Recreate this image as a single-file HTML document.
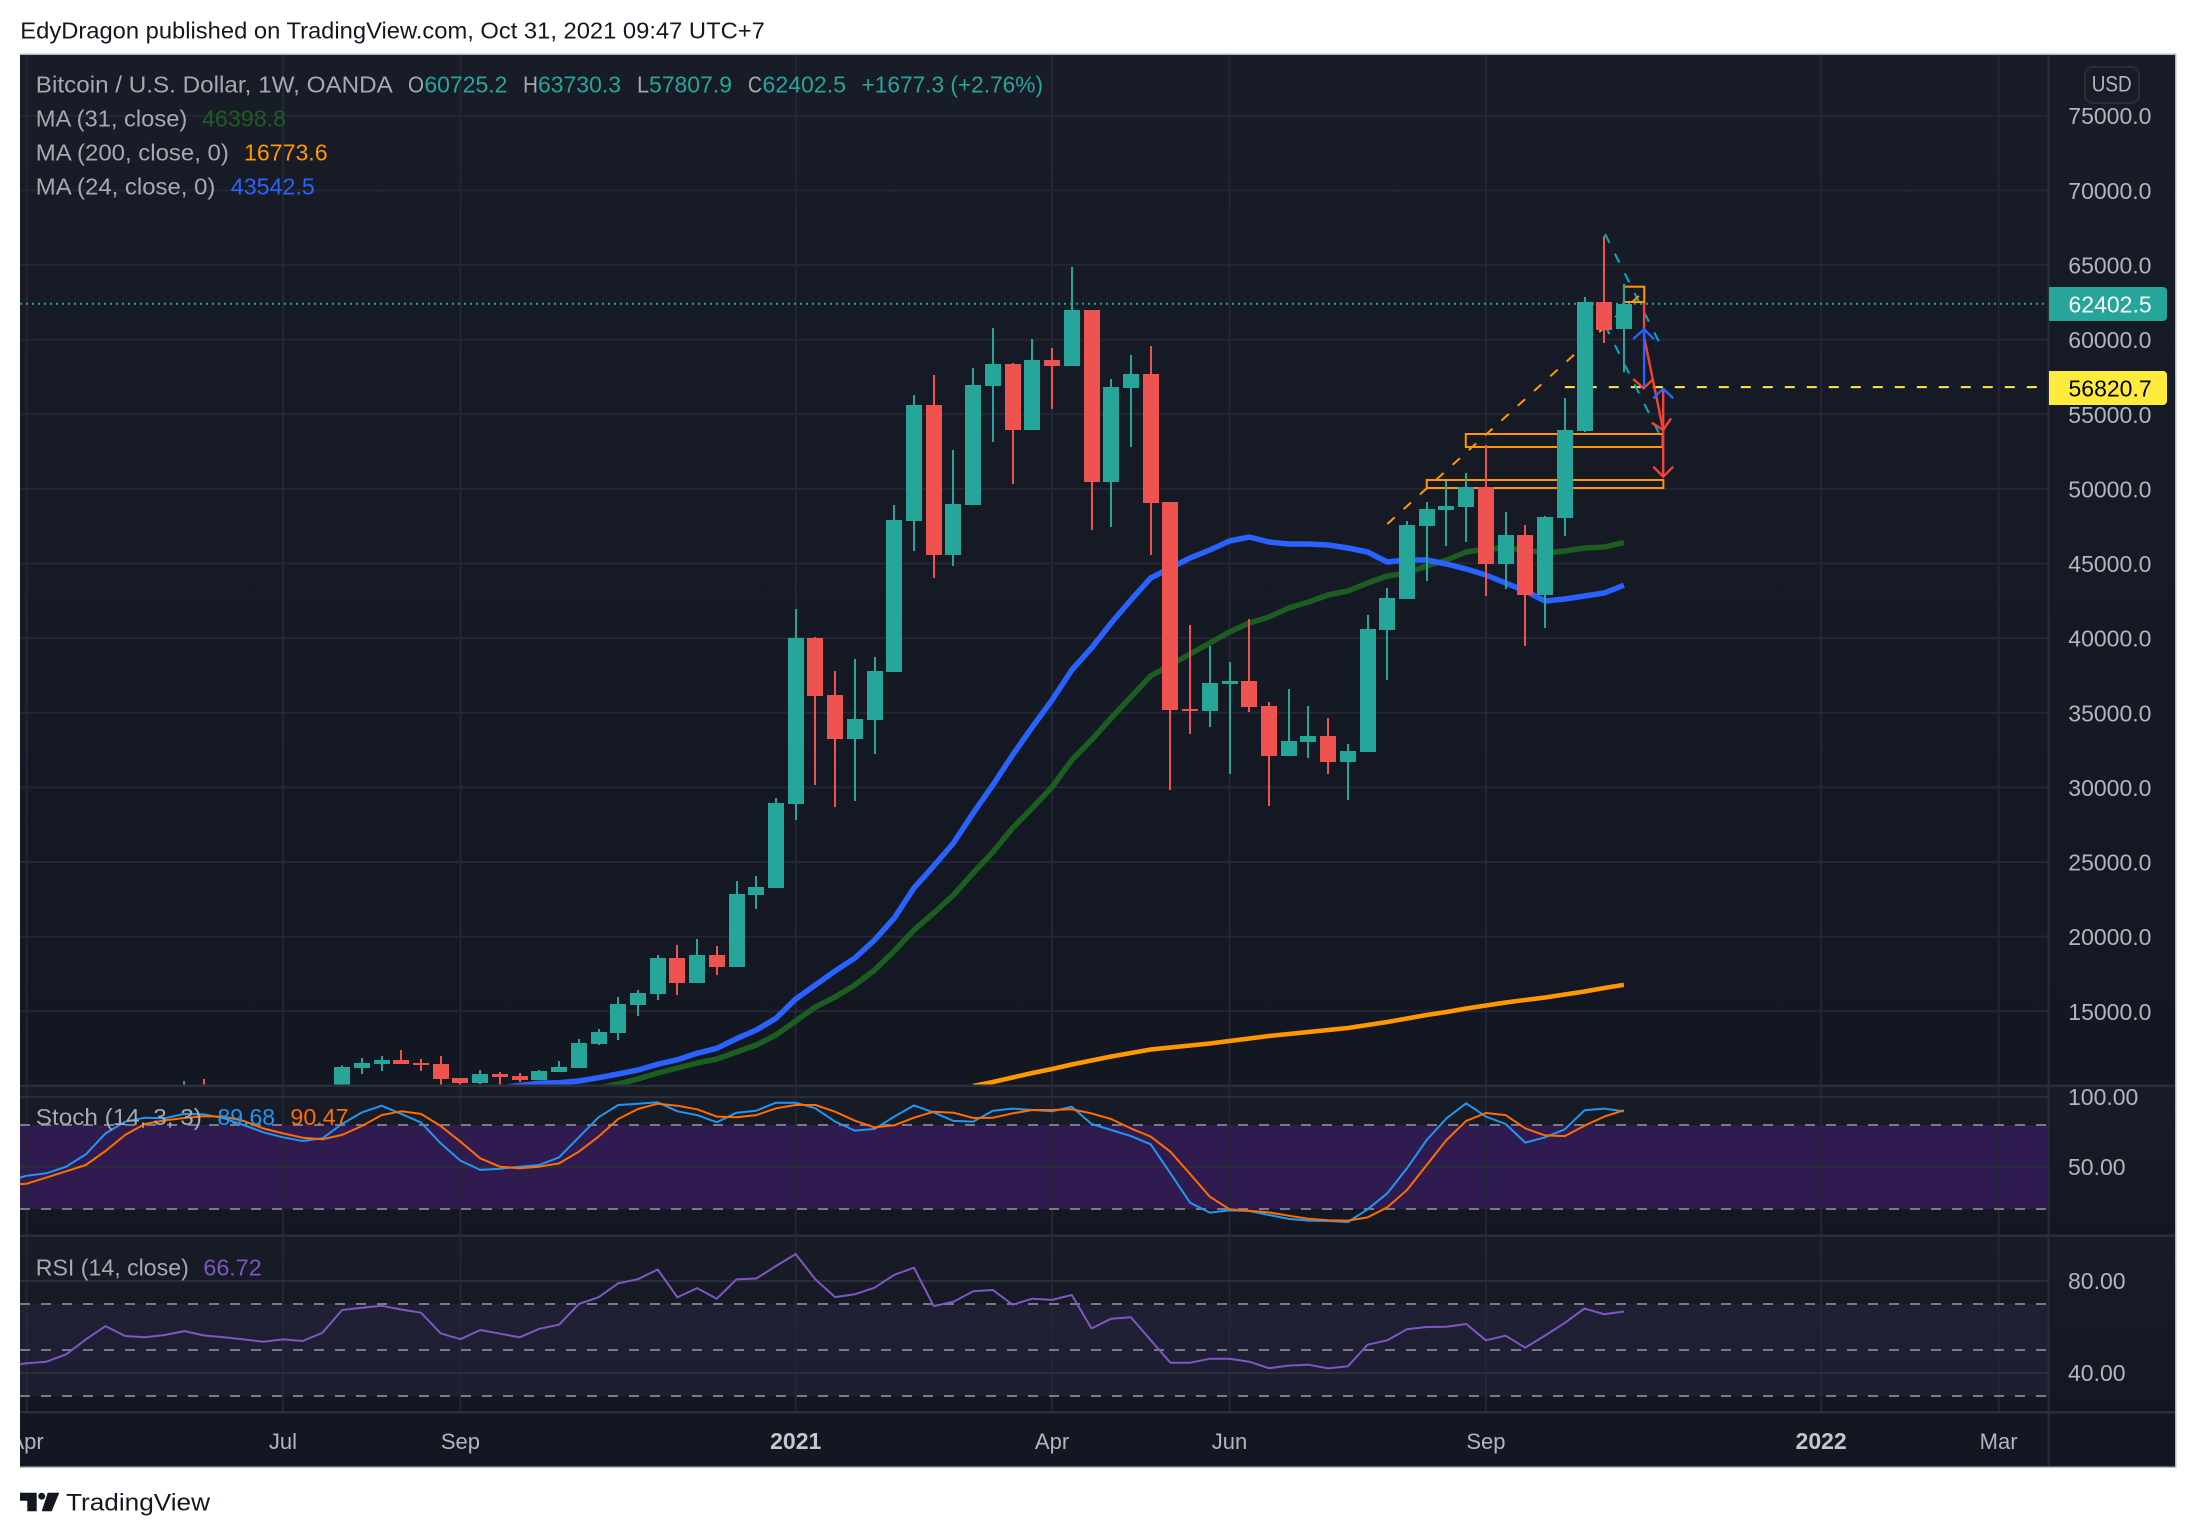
<!DOCTYPE html>
<html lang="en">
<head>
<meta charset="utf-8">
<title>Bitcoin / U.S. Dollar, 1W, OANDA</title>
<style>
html,body{margin:0;padding:0;background:#fff;width:2196px;height:1538px;overflow:hidden}
svg{display:block;font-family:"Liberation Sans",sans-serif}
</style>
</head>
<body>
<svg id="root" xmlns="http://www.w3.org/2000/svg" width="2196" height="1538" viewBox="0 0 2196 1538">
<defs>
<linearGradient id="g1" gradientUnits="userSpaceOnUse" x1="0" y1="54" x2="0" y2="1085"><stop offset="0" stop-color="#181c27"/><stop offset="1" stop-color="#131722"/></linearGradient>
<linearGradient id="g2" gradientUnits="userSpaceOnUse" x1="0" y1="1086" x2="0" y2="1235"><stop offset="0" stop-color="#181c27"/><stop offset="1" stop-color="#131722"/></linearGradient>
<linearGradient id="g3" gradientUnits="userSpaceOnUse" x1="0" y1="1236" x2="0" y2="1412"><stop offset="0" stop-color="#181c27"/><stop offset="1" stop-color="#131722"/></linearGradient>
<clipPath id="clipMain"><rect x="20" y="54" width="2028" height="1030.5"/></clipPath>
<clipPath id="clipStoch"><rect x="20" y="1087" width="2028" height="148"/></clipPath>
<clipPath id="clipRsi"><rect x="20" y="1237" width="2028" height="175"/></clipPath>
<clipPath id="clipTime"><rect x="20" y="1413" width="2028" height="54"/></clipPath>
</defs>
<rect x="0" y="0" width="2196" height="1538" fill="#ffffff"/>
<text x="20.3" y="38.5" font-size="23" fill="#131722" textLength="744.5" lengthAdjust="spacingAndGlyphs">EdyDragon published on TradingView.com, Oct 31, 2021 09:47 UTC+7</text>

<rect x="20" y="54" width="2156" height="1032" fill="url(#g1)"/>
<rect x="20" y="1086" width="2156" height="150" fill="url(#g2)"/>
<rect x="20" y="1236" width="2156" height="176" fill="url(#g3)"/>
<rect x="20" y="1412" width="2156" height="55" fill="#131722"/>

<g id="marks"></g>

<g fill="#b8bbc4">
<rect x="20" y="53.5" width="2156" height="1.5"/>
<rect x="20" y="1466.5" width="2156" height="1.5"/>
<rect x="2175" y="53.5" width="1.5" height="1414.5"/>
</g>

<g font-size="23">
<text x="35.8" y="92.3" fill="#a6a9b2" textLength="357" lengthAdjust="spacingAndGlyphs">Bitcoin / U.S. Dollar, 1W, OANDA</text>
<text x="408" y="92.3" fill="#a6a9b2" textLength="16" lengthAdjust="spacingAndGlyphs">O</text>
<text x="424.4" y="92.3" fill="#26a69a" textLength="83" lengthAdjust="spacingAndGlyphs">60725.2</text>
<text x="523" y="92.3" fill="#a6a9b2" textLength="15" lengthAdjust="spacingAndGlyphs">H</text>
<text x="538" y="92.3" fill="#26a69a" textLength="83" lengthAdjust="spacingAndGlyphs">63730.3</text>
<text x="637" y="92.3" fill="#a6a9b2" textLength="12" lengthAdjust="spacingAndGlyphs">L</text>
<text x="649" y="92.3" fill="#26a69a" textLength="83" lengthAdjust="spacingAndGlyphs">57807.9</text>
<text x="748" y="92.3" fill="#a6a9b2" textLength="14" lengthAdjust="spacingAndGlyphs">C</text>
<text x="762.5" y="92.3" fill="#26a69a" textLength="83.5" lengthAdjust="spacingAndGlyphs">62402.5</text>
<text x="861.5" y="92.3" fill="#26a69a" textLength="181.5" lengthAdjust="spacingAndGlyphs">+1677.3 (+2.76%)</text>
<text x="35.8" y="126.7" fill="#a6a9b2" textLength="151.5" lengthAdjust="spacingAndGlyphs">MA (31, close)</text>
<text x="202" y="126.7" fill="#1b5e20" textLength="84" lengthAdjust="spacingAndGlyphs">46398.8</text>
<text x="35.8" y="160.7" fill="#a6a9b2" textLength="193" lengthAdjust="spacingAndGlyphs">MA (200, close, 0)</text>
<text x="244" y="160.7" fill="#ff9800" textLength="83.6" lengthAdjust="spacingAndGlyphs">16773.6</text>
<text x="35.8" y="194.7" fill="#a6a9b2" textLength="179.6" lengthAdjust="spacingAndGlyphs">MA (24, close, 0)</text>
<text x="230.8" y="194.7" fill="#2962ff" textLength="84" lengthAdjust="spacingAndGlyphs">43542.5</text>
</g>

<g font-size="23">
<text x="35.8" y="1125" fill="#a6a9b2" textLength="166" lengthAdjust="spacingAndGlyphs">Stoch (14, 3, 3)</text>
<text x="217.5" y="1125" fill="#2196f3" textLength="57.5" lengthAdjust="spacingAndGlyphs">89.68</text>
<text x="290.4" y="1125" fill="#ff6d00" textLength="58.2" lengthAdjust="spacingAndGlyphs">90.47</text>
</g>
<g font-size="23">
<text x="35.8" y="1275.7" fill="#a6a9b2" textLength="153" lengthAdjust="spacingAndGlyphs">RSI (14, close)</text>
<text x="203.4" y="1275.7" fill="#7e57c2" textLength="58.3" lengthAdjust="spacingAndGlyphs">66.72</text>
</g>

<g>
<rect x="2085" y="67" width="54" height="36" rx="8" fill="none" stroke="#2a2e39" stroke-width="2"/>
<text x="2091.7" y="91.7" font-size="22" fill="#b2b5be" textLength="40" lengthAdjust="spacingAndGlyphs">USD</text>
</g>

<g>
<path d="M2049 287H2163a4 4 0 0 1 4 4V317a4 4 0 0 1 -4 4H2049Z" fill="#26a69a"/>
<text x="2068.5" y="312.7" font-size="23" fill="#ffffff">62402.5</text>
</g>
<g>
<path d="M2049 371H2163a4 4 0 0 1 4 4V401a4 4 0 0 1 -4 4H2049Z" fill="#ffeb3b"/>
<text x="2068.5" y="396.7" font-size="23" fill="#000000">56820.7</text>
</g>

<g>
<path d="M20 1492.7H36.7V1511.3H27.3V1500.7H20ZM47.7 1492.7H59.3L51.7 1511.3H41.7Z" fill="#131722"/>
<circle cx="41.7" cy="1496.2" r="3.5" fill="#131722"/>
<text x="66" y="1510.7" font-size="24" fill="#131722" textLength="144" lengthAdjust="spacingAndGlyphs">TradingView</text>
</g>

<script>
// ---- chart data (all weeks relative to the first 2021 candle) ----
const firstWeek = -40;
const priceTicks = [15000,20000,25000,30000,35000,40000,45000,50000,55000,60000,65000,70000,75000];
const stochTicks = [100,50];
const stochLevels = [80,20];
const rsiTicks = [80,40];
const rsiLevels = [70,50,30];
const timeLabels = ['Apr','Jul','Sep','2021','Apr','Jun','Sep','2022','Mar'];
const timeWeeks = [-39,-26,-17,0,13,22,35,52,61];
const timeBold = ['2021','2022'];

const opens = [null,null,null,null,null,null,null,null,null,
9390,9725,9400,9500,9300,9100,9200,9100,9200,11199,11467,11735,11534,11467,10529,10194,10797,10663,10395,10931,11199,12807,13544,15420,16157,18569,16894,18770,17966,22790,23259,
28887,40009,36190,33242,34515,37731,47848,55620,45570,48920,56893,58367,53945,58635,58233,61985,50461,56759,57697,49121,35252,35118,36927,37128,35453,32103,33041,33443,31701,32371,40545,42622,47513,48585,48786,50126,44967,46910,42890,48049,53878,62521,60725.2];
const highs = [null,null,null,null,null,null,null,null,null,
10328,10462,9800,9900,9700,9500,9600,9500,11378,11869,12003,12405,11802,12003,10529,11065,10931,10864,11065,11668,13142,13812,15956,16425,18770,19440,19842,19373,23728,24063,29289,
41952,40076,37798,38602,38736,48920,56290,57630,52605,58099,60779,58434,60042,59439,64866,61985,57362,58970,59573,49121,40880,39473,38401,41282,35721,36592,35453,34649,32917,41550,43359,47848,49121,50528,51064,52940,48451,47580,48183,56089,62856,66943,63730.3];
const lows = [null,null,null,null,null,null,null,null,null,
9055,9055,9000,9100,9000,8900,9000,8950,9000,10797,10998,11467,10998,9859,9993,10127,9859,10261,10395,10931,11199,12740,13075,14683,15755,16090,16894,17430,17966,21852,23259,
27815,30160,28686,29088,32237,37731,45838,44029,44833,48920,53141,50327,53945,55352,58233,47245,47446,52806,45570,29825,33577,34046,30897,35051,28753,32103,31969,30897,29155,32371,37195,42622,43828,46173,46441,42823,43292,39473,40679,46843,53811,59774,57807.9];
const closes = [null,null,null,null,null,null,null,null,null,
9725,9390,9500,9300,9100,9200,9100,9200,11266,11534,11735,11467,11400,10462,10194,10797,10596,10395,10998,11266,12874,13611,15487,16224,18569,16894,18770,17966,22857,23326,28954,
40009,36123,33242,34582,37798,47915,55620,45570,48987,56960,58367,53945,58635,58233,61985,50461,56826,57697,49054,35185,35118,36994,37128,35386,32103,33108,33443,31701,32438,40612,42689,47580,48652,48853,50126,44967,46910,42890,48116,53945,62521,60645,62402.5];

const ma24 = [null,null,null,null,null,null,null,null,null,null,null,null,null,null,null,null,null,null,null,null,null,null,null,null,null,
9859,10026,10174,10214,10328,10549,10797,11065,11447,11755,12184,12519,13162,13745,14529,
15822,16760,17698,18569,19775,21249,23259,24733,26274,28284,30160,32170,34046,35855,37865,39339,41014,42555,44029,44699,45369,45905,46508,46776,46441,46307,46307,46240,46039,45771,45101,45235,45235,44967,44632,44230,43694,43158,42488,42622,42823,43024,43542.5];
const ma31 = [null,null,null,null,null,null,null,null,null,null,null,null,null,null,null,null,null,null,null,null,null,null,null,null,null,null,null,null,null,null,
9859,10127,10462,10864,11199,11534,11802,12271,12740,13410,
14348,15286,15956,16760,17765,19038,20445,21584,22790,24264,25671,27279,28619,30026,31835,33175,34649,36056,37463,38200,38937,39674,40411,41014,41416,42019,42421,42890,43158,43694,44163,44364,44833,45235,45771,45972,46039,45905,45704,45838,46039,46106,46398.8];
const ma200 = [null,null,null,null,null,null,null,null,null,null,null,null,null,null,null,null,null,null,null,null,null,null,null,null,null,null,null,null,null,null,null,null,null,null,null,null,null,null,null,null,null,null,null,null,null,null,null,null,null,
9993,10261,10563,10864,11132,11434,11702,11970,12204,12439,12573,12707,12841,13008,13176,13343,13477,13611,13745,13879,14080,14281,14516,14750,14951,15186,15387,15587,15755,15923,16124,16325,16559,16773.6];

const stochK = [39.5,43.8,45.5,50.2,59.0,74.0,82.4,85.2,84.8,87.9,
87.6,84.8,80.0,74.8,71.2,68.6,70.5,80.7,89.0,93.8,
87.9,81.7,66.9,54.5,47.9,48.8,50.2,51.4,56.9,71.2,
85.5,94.3,95.2,96.2,89.8,87.1,81.9,88.8,90.2,95.9,
95.9,91.9,82.4,76.0,77.2,86.0,94.0,89.0,82.9,82.4,
90.2,91.7,90.7,89.8,93.1,80.7,76.4,72.1,66.2,45.5,
24.5,17.4,19.0,18.6,15.7,12.9,11.7,11.4,10.7,19.8,
31.2,49.1,69.3,84.8,95.5,86.0,80.7,67.4,71.2,76.9,
90.5,91.7,89.68];
const stochD = [37.1,38.1,42.4,46.9,51.4,61.4,72.9,80.7,83.3,85.0,
86.2,86.0,82.9,77.6,74.0,70.9,69.8,72.9,79.3,87.1,
89.8,87.9,79.3,68.1,56.2,50.2,49.1,50.2,52.6,60.9,
71.7,84.3,91.4,95.2,93.8,91.2,86.0,85.5,87.1,91.9,
94.3,94.3,89.5,83.1,78.3,79.8,85.2,89.5,88.8,85.0,
85.2,88.3,90.7,90.7,91.2,88.3,84.3,77.6,71.7,60.9,
45.0,28.8,19.8,18.8,17.6,15.2,13.1,11.9,11.7,14.0,
21.2,33.6,51.4,69.3,82.9,88.6,87.1,77.6,72.6,72.1,
79.5,86.0,90.47];
const rsiValues = [43.0,44.2,44.9,48.1,54.6,60.4,56.1,55.5,56.5,58.2,
56.3,55.5,54.6,53.6,54.6,53.9,57.5,67.4,68.4,69.2,
67.6,66.2,57.2,54.7,58.7,57.1,55.5,59.2,61.0,70.0,
72.9,79.0,80.8,85.0,72.9,76.9,72.3,80.7,81.1,86.5,
91.7,80.7,73.0,74.2,77.1,82.7,85.8,69.1,71.0,75.5,
76.1,69.7,72.3,71.8,73.9,59.4,63.6,64.2,54.3,44.5,
44.5,46.2,46.2,44.9,42.1,43.2,43.6,42.0,42.9,52.3,
54.2,59.0,60.0,60.1,61.3,54.2,56.2,51.0,56.3,61.8,
68.1,65.5,66.72];

const lastPrice = 62402.5;
const markedPrice = 56820.7;
const markedLineWeeks = [39,63.05];
// ---- chart drawings, stored as [week, price] ----
const cyanFanUpper = [[41.04,67077],[44.03,59171]];
const cyanFanLower = [[41.04,60960],[44.03,53054]];
const orangeTrend = [[30.0,47647],[42.76,62923]];
const zoneBoxes = [[42.0,63546,43.03,62521],[33.98,53677,43.96,52806],[32.0,50595,44.0,50059]];
const redPaths = [
  [[43.02,62454],[43.02,60176],[43.99,53945]],
  [[43.41,54434],[43.99,53945],[44.39,54729]],
  [[42.47,57362],[43.0,56739],[43.49,57362]],
  [[43.99,56625],[43.99,50816]],
  [[43.49,51486],[43.99,50816],[44.5,51486]]
];
const bluePaths = [
  [[43.02,56826],[43.02,60645]],
  [[42.47,60042],[43.02,60692],[43.52,60042]],
  [[43.49,56069],[43.99,56712],[44.5,56069]]
];

// ---- axis functions ----
function weekX(w){ return 795.7 + w*19.72; }
function priceY(p){ return (82755 - p)/67; }
function stochY(v){ return 1125 + (80 - v)*1.4; }
function rsiY(v){ return 1304 + (70 - v)*2.3; }

const NS = 'http://www.w3.org/2000/svg';
const marks = document.getElementById('marks');
function mk(parent, tag, attrs){
  const el = document.createElementNS(NS, tag);
  for (const k in attrs) el.setAttribute(k, attrs[k]);
  parent.appendChild(el);
  return el;
}
function group(clip){
  const g = mk(marks, 'g', clip ? {'clip-path':'url(#'+clip+')'} : {});
  return g;
}
function seriesPath(values, yFn){
  let d = '';
  values.forEach(function(v, i){
    if (v === null) return;
    d += (d ? 'L' : 'M') + weekX(firstWeek + i).toFixed(1) + ' ' + yFn(v).toFixed(1);
  });
  return d;
}
function drawingPath(points){
  return points.map(function(pt, i){
    return (i ? 'L' : 'M') + weekX(pt[0]).toFixed(1) + ' ' + priceY(pt[1]).toFixed(1);
  }).join('');
}

// ---- bands ----
const bandsG = group();


const stochBand = mk(bandsG, 'rect', {x:20, y:stochY(stochLevels[0]), width:2028, height:stochY(stochLevels[1])-stochY(stochLevels[0]), fill:'#301b50'});


const rsiBand = mk(bandsG, 'rect', {x:20, y:rsiY(rsiLevels[0]), width:2028, height:rsiY(rsiLevels[2])-rsiY(rsiLevels[0]), fill:'#7e57c2', 'fill-opacity':0.1});



// ---- grid ----
const gridG = group();


const gridColor = '#242733';
timeWeeks.forEach(function(w){
  const x = weekX(w);
  if (x < 20) { }
  const line = mk(gridG, 'line', {x1:x, x2:x, y1:54, y2:1412, stroke:gridColor, 'stroke-width':2});
  
  
});
priceTicks.forEach(function(p){
  const y = priceY(p);
  const line = mk(gridG, 'line', {x1:20, x2:2048, y1:y, y2:y, stroke:gridColor, 'stroke-width':2});
  
  
});
stochTicks.forEach(function(v){
  const y = stochY(v);
  const line = mk(gridG, 'line', {x1:20, x2:2048, y1:y, y2:y, stroke:'#2a2e39', 'stroke-width':2});
  
  
});
rsiTicks.forEach(function(v){
  const y = rsiY(v);
  const line = mk(gridG, 'line', {x1:20, x2:2048, y1:y, y2:y, stroke:'#2a2e39', 'stroke-width':2});
  
  
});

// ---- level lines ----
const levelG = group();


stochLevels.forEach(function(v){
  const y = stochY(v);
  const line = mk(levelG, 'line', {x1:20, x2:2048, y1:y, y2:y, stroke:'#787b86', 'stroke-width':2, 'stroke-dasharray':'10 11'});
  
  
});
rsiLevels.forEach(function(v){
  const y = rsiY(v);
  const line = mk(levelG, 'line', {x1:20, x2:2048, y1:y, y2:y, stroke:'#787b86', 'stroke-width':2, 'stroke-dasharray':'10 11'});
  
  
});

// ---- main pane ----
const mainG = group('clipMain');



const ma200Line = mk(mainG, 'path', {d:seriesPath(ma200, priceY), fill:'none', stroke:'#ff9800', 'stroke-width':4.5, 'stroke-linejoin':'round'});


const ma31Line = mk(mainG, 'path', {d:seriesPath(ma31, priceY), fill:'none', stroke:'#1b5e20', 'stroke-width':5.5, 'stroke-linejoin':'round'});


const ma24Line = mk(mainG, 'path', {d:seriesPath(ma24, priceY), fill:'none', stroke:'#2962ff', 'stroke-width':5.5, 'stroke-linejoin':'round'});



const lastLine = mk(mainG, 'line', {x1:20, x2:2047, y1:priceY(lastPrice), y2:priceY(lastPrice), stroke:'#26a69a', 'stroke-width':2, 'stroke-dasharray':'2 4'});


const markedLine = mk(mainG, 'line', {x1:weekX(markedLineWeeks[0]), x2:weekX(markedLineWeeks[1]), y1:priceY(markedPrice), y2:priceY(markedPrice), stroke:'#ffeb3b', 'stroke-width':2, 'stroke-dasharray':'10 12'});



const cyanUpper = mk(mainG, 'path', {d:drawingPath(cyanFanUpper), fill:'none', stroke:'#00acc1', 'stroke-width':2, 'stroke-dasharray':'10 12'});


const cyanLower = mk(mainG, 'path', {d:drawingPath(cyanFanLower), fill:'none', stroke:'#00acc1', 'stroke-width':2, 'stroke-dasharray':'10 12'});


const orangeLine = mk(mainG, 'path', {d:drawingPath(orangeTrend), fill:'none', stroke:'#ff9800', 'stroke-width':2, 'stroke-dasharray':'10 12'});



zoneBoxes.forEach(function(b){
  const x1 = weekX(b[0]), x2 = weekX(b[2]), y1 = priceY(b[1]), y2 = priceY(b[3]);
  const box = mk(mainG, 'rect', {x:x1, y:y1, width:x2-x1, height:y2-y1, fill:'none', stroke:'#ff9800', 'stroke-width':2});
  
  
});
redPaths.forEach(function(pts){
  const arrow = mk(mainG, 'path', {d:drawingPath(pts), fill:'none', stroke:'#f44336', 'stroke-width':2.4});
  
  
});
bluePaths.forEach(function(pts){
  const arrow = mk(mainG, 'path', {d:drawingPath(pts), fill:'none', stroke:'#2962ff', 'stroke-width':2.4});
  
  
});

// ---- candles ----
opens.forEach(function(o, i){
  if (o === null) return;
  const c = closes[i], h = highs[i], l = lows[i];
  const color = c >= o ? '#26a69a' : '#ef5350';
  const cx = Math.round(weekX(firstWeek + i));
  const top = Math.round(priceY(Math.max(o, c)));
  const bot = Math.round(priceY(Math.min(o, c)));
  const candle = mk(mainG, 'g', {});
  
  
  const wick = mk(candle, 'rect', {x:cx-1, y:priceY(h), width:2, height:priceY(l)-priceY(h), fill:color});
  
  
  const body = mk(candle, 'rect', {x:cx-8, y:top, width:16, height:Math.max(2, bot-top), fill:color});
  
  
});

// ---- stochastic pane ----
const stochG = group('clipStoch');


const kLine = mk(stochG, 'path', {d:seriesPath(stochK, stochY), fill:'none', stroke:'#2196f3', 'stroke-width':2, 'stroke-linejoin':'round'});


const dLine = mk(stochG, 'path', {d:seriesPath(stochD, stochY), fill:'none', stroke:'#ff6d00', 'stroke-width':2, 'stroke-linejoin':'round'});



// ---- RSI pane ----
const rsiG = group('clipRsi');


const rsiLine = mk(rsiG, 'path', {d:seriesPath(rsiValues, rsiY), fill:'none', stroke:'#7e57c2', 'stroke-width':2, 'stroke-linejoin':'round'});



// ---- separators ----
const sepG = group();


[1085.7,1235.7,1412.3].forEach(function(y){
  const sep = mk(sepG, 'line', {x1:20, x2:2176, y1:y, y2:y, stroke:'#2a2e39', 'stroke-width':2.5});
  
  
});
const axisSep = mk(sepG, 'line', {x1:2048.5, x2:2048.5, y1:54, y2:1467, stroke:'#2a2e39', 'stroke-width':2});



// ---- axis labels ----
const priceAxisG = group();


priceTicks.forEach(function(p){
  const t = mk(priceAxisG, 'text', {x:2068.3, y:priceY(p)+8.5, 'font-size':23, fill:'#b2b5be'});
  t.textContent = p.toFixed(1);
  
  
});
const stochAxisG = group();


stochTicks.forEach(function(v){
  const t = mk(stochAxisG, 'text', {x:2068, y:stochY(v)+8, 'font-size':23, fill:'#b2b5be'});
  t.textContent = v.toFixed(2);
  
  
});
const rsiAxisG = group();


rsiTicks.forEach(function(v){
  const t = mk(rsiAxisG, 'text', {x:2068, y:rsiY(v)+8, 'font-size':23, fill:'#b2b5be'});
  t.textContent = v.toFixed(2);
  
  
});
const timeAxisG = group('clipTime');


timeLabels.forEach(function(label, i){
  const bold = timeBold.indexOf(label) >= 0;
  const t = mk(timeAxisG, 'text', {x:weekX(timeWeeks[i]), y:1449, 'font-size':bold ? 23 : 22, 'font-weight':bold ? 'bold' : 'normal', 'text-anchor':'middle', fill:bold ? '#c4c7d0' : '#b2b5be'});
  t.textContent = label;
  
  
});
</script>
</svg>
</body>
</html>
